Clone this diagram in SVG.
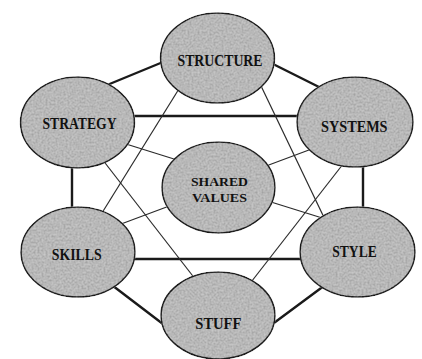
<svg xmlns="http://www.w3.org/2000/svg" width="422" height="359" viewBox="0 0 422 359">
<style>
.bg{fill:#ffffff}
.outer{stroke:#1a1a1a;stroke-width:2.4;fill:none;stroke-linecap:round}
.inner{stroke:#2a2a2a;stroke-width:1.2;fill:none}
.node ellipse{fill:#b8b8b8;stroke:#1e1e1e;stroke-width:1.6;filter:url(#mottle)}
.label{font-family:"Liberation Serif","Times New Roman",serif;font-weight:bold;font-size:16px;fill:#111;text-anchor:middle}
.label2{font-size:13.5px}
</style>
<defs>
<filter id="mottle" x="-5%" y="-5%" width="110%" height="110%">
<feTurbulence type="fractalNoise" baseFrequency="0.5" numOctaves="3" seed="5" result="noise"/>
<feColorMatrix in="noise" type="matrix" values="0.7 0 0 0 0.15  0.7 0 0 0 0.15  0.7 0 0 0 0.15  0 0 0 0 1" result="gray"/>
<feBlend in="gray" in2="SourceGraphic" mode="soft-light" result="b"/>
<feComposite in="b" in2="SourceGraphic" operator="in"/>
</filter>
</defs>
<rect class="bg" x="0" y="0" width="422" height="359"/>
<g id="connectors">
<line class="outer" x1="95" y1="90" x2="180" y2="55"/>
<line class="outer" x1="255" y1="55" x2="335" y2="95"/>
<line class="outer" x1="120" y1="116" x2="315" y2="116"/>
<line class="outer" x1="72" y1="150" x2="72" y2="225"/>
<line class="outer" x1="363" y1="150" x2="363" y2="225"/>
<line class="outer" x1="120" y1="259" x2="315" y2="259"/>
<line class="outer" x1="100" y1="276" x2="180" y2="337"/>
<line class="outer" x1="340" y1="274" x2="255" y2="337"/>
<line class="inner" x1="190.7" y1="70" x2="91.4" y2="230"/>
<line class="inner" x1="253.4" y1="70" x2="330" y2="230"/>
<line class="inner" x1="95" y1="150" x2="203.7" y2="290"/>
<line class="inner" x1="354" y1="150" x2="241" y2="295"/>
<line class="inner" x1="110" y1="139" x2="190" y2="164"/>
<line class="inner" x1="325" y1="144" x2="250" y2="172"/>
<line class="inner" x1="105" y1="230" x2="180" y2="202"/>
<line class="inner" x1="255" y1="197" x2="335" y2="222"/>
</g>
<g id="structure" class="node"><ellipse cx="217.5" cy="58" rx="57" ry="45"/><text class="label" x="220" y="65.5" textLength="85" lengthAdjust="spacingAndGlyphs">STRUCTURE</text></g>
<g id="strategy" class="node"><ellipse cx="77.5" cy="122.5" rx="57" ry="45.5"/><text class="label" x="79.5" y="129" textLength="74" lengthAdjust="spacingAndGlyphs">STRATEGY</text></g>
<g id="systems" class="node"><ellipse cx="355" cy="122" rx="58" ry="45"/><text class="label" x="354.3" y="132" textLength="66.5" lengthAdjust="spacingAndGlyphs">SYSTEMS</text></g>
<g id="shared-values" class="node"><ellipse cx="218.5" cy="187.5" rx="56.5" ry="45.5"/><text class="label label2"><tspan x="219.5" y="186" textLength="57" lengthAdjust="spacingAndGlyphs">SHARED</tspan><tspan x="219.5" y="201.5" textLength="55" lengthAdjust="spacingAndGlyphs">VALUES</tspan></text></g>
<g id="skills" class="node"><ellipse cx="78" cy="252" rx="57" ry="45"/><text class="label" x="76.7" y="259.5" textLength="50" lengthAdjust="spacingAndGlyphs">SKILLS</text></g>
<g id="style" class="node"><ellipse cx="357.5" cy="252" rx="57.5" ry="45"/><text class="label" x="354.5" y="257" textLength="44.4" lengthAdjust="spacingAndGlyphs">STYLE</text></g>
<g id="stuff" class="node"><ellipse cx="218" cy="315.5" rx="57" ry="43.5"/><text class="label" x="218.3" y="328.5" textLength="46" lengthAdjust="spacingAndGlyphs">STUFF</text></g>
</svg>
